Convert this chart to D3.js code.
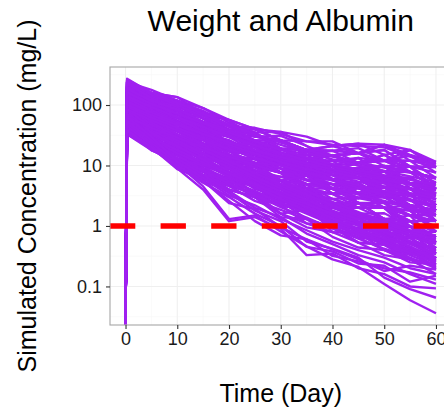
<!DOCTYPE html>
<html>
<head>
<meta charset="utf-8">
<script src="https://cdnjs.cloudflare.com/ajax/libs/d3/7.8.5/d3.min.js"></script>
<style>
    body { margin: 0; background: #fff; }
    svg { display: block; font-family: Arial, "Liberation Sans", sans-serif; }
</style>
</head>
<body>
<svg id="canvas" width="444" height="410"></svg>
<script>
// sampling times (day), shared by every simulated subject
var times = [0, 0.3, 5, 10, 15, 20, 25, 30, 35, 40, 45, 50, 55, 60];

// simulated concentration (mg/L), one row per subject; 0 = pre-dose sample
var profiles = [
    [0,272,158,135,89,57,40,36,30,21,23,22,15,11.5],
    [0,216,158,135,68,39,40,26,15,14.5,16,9.8,7.8,6.2],
    [0,216,158,104,68,57,40,26,25,25,16,22,18,9.4],
    [0,238,141,80,68,39,23,19,18,8.4,9.1,9.8,4.2,3.4],
    [0,196,112,104,60,34,30,26,18,17.5,19.4,12,12,9.4],
    [0,177,141,80,46,30,26,14,11,10,6.2,4.4,4.2,2.2],
    [0,196,112,70,52,39,23,19,18,10,11,12,7.8,4.1],
    [0,177,100,70,52,23,20,14,8,5.9,6.2,3.6,2.2,1.8],
    [0,145,100,91,46,34,35,19,18,21,16,12,18,9.4],
    [0,160,112,62,46,34,20,14,12.8,8.4,6.2,8,5.1,2.75],
    [0,160,79,54,40,17.3,15,10.4,6.8,3.4,4.25,2.4,1.5,0.98],
    [0,131,89,70,40,30,26,16.5,11,12,11,8,7.8,6.2],
    [0,131,89,48,35,26,17,10.4,9.4,5.9,4.25,4.4,4.2,1.8],
    [0,145,63,48,30,17.3,9.6,7.6,4.9,2.35,2.4,2.0,0.98,0.65],
    [0,108,71,54,35,20,20,12.1,8,7,9.1,5.4,5.1,4.1],
    [0,119,79,48,23,20,12.8,7.6,6.8,5.9,3.5,3,2.75,1.2],
    [0,119,71,42,40,23,17,14,15,8.4,11,12,7.8,6.2],
    [0,108,56,48,23,13.2,11,8.9,4.2,3.4,3.5,2.0,1.5,1.2],
    [0,88,63,37,23,17.3,15,7.6,6.8,5.9,4.25,4.4,4.2,2.2],
    [0,108,56,28,20.5,13.2,7.2,4.8,4.2,1.65,1.6,1.3,0.8,0.35],
    [0,88,45,32,23,11.6,9.6,7.6,4.9,4.1,4.25,3,1.8,1.8],
    [0,80,50,42,20.5,17.3,15,7.6,8,7,6.2,4.4,6.3,3.4],
    [0,80,50,25,18,11.6,6.2,4.8,4.2,2.35,1.6,1.62,0.98,0.53],
    [0,88,40,25,18,7.8,6.2,4.1,2.55,1.15,1.35,0.73,0.43,0.29],
    [0,66,40,32,15.5,13.2,11,7.6,4.9,4.9,4.25,3,3.4,2.75],
    [0,73,45,22,15.5,11.6,7.2,4.1,4.9,2.8,2.0,2.0,1.8,0.8],
    [0,73,32,22,13.5,7.8,4.7,4.1,2.55,1.4,1.1,1.08,0.53,0.43],
    [0,60,36,28,15.5,8.9,9.6,5.6,3.5,3.4,3.5,2.0,2.2,1.8],
    [0,60,36,19.5,10,8.9,5.4,3.0,3.0,2.35,1.35,1.3,1.2,0.53],
    [0,66,32,15,11.8,6.8,3.5,2.55,2.2,0.79,0.77,0.73,0.28,0.23],
    [0,54,25,22,11.8,6.8,6.2,4.8,2.55,2.35,2.4,1.3,1.5,1.2],
    [0,49,32,17,9,6,4.7,2.2,1.85,1.4,0.77,0.59,0.53,0.29],
    [0,54,25,13,10,7.8,4.1,3.0,2.55,1.15,1.1,1.3,0.8,0.43],
    [0,49,22,13,9,4.6,3.5,2.2,1.1,0.79,0.77,0.4,0.25,0.23],
    [0,40,22,17,7.9,6,5.4,2.55,2.2,2.0,1.35,0.89,1.2,0.65],
    [0,44,25,11.5,7.9,6,3,2.2,1.85,0.95,0.64,0.73,0.43,0.23],
    [0,44,18,13,9,4.6,3.5,3.0,1.85,0.95,1.1,0.89,0.53,0.43],
    [0,33,18,11.5,5.3,4.0,3.0,1.6,1.1,0.95,0.64,0.4,0.35,0.29],
    [0,36,20,10,6.9,5.2,3.0,1.6,1.85,0.95,0.64,0.59,0.65,0.29],
    [0,255,141,118,89,51,35,36,21,14.5,16,18,9.6,7.6],
    [0,160,112,104,60,34,40,26,18,21,23,15,18,11.5],
    [0,119,89,54,35,30,23,14,15,14.5,11,12,12,6.2],
    [0,88,50,28,26.5,17.3,11,10.4,11,5.9,7.5,9.8,5.1,5.1],
    [0,66,36,32,20.5,13.2,12.8,12.1,8,8.4,11,8,9.6,9.4],
    [0,238,178,118,60,39,35,16.5,12.8,12,6.2,5.4,5.1,2.2],
    [0,238,126,70,52,34,17,12.1,9.4,4.1,3.5,3.6,1.8,0.8],
    [0,145,71,48,35,15,11,7.6,3.5,2.35,2.4,1.3,0.65,0.53],
    [0,88,50,32,13.5,10.2,7.2,3.0,2.2,1.4,0.77,0.49,0.43,0.19],
    [0,54,36,19.5,13.5,11.6,7.2,6.5,6.8,4.9,3.5,5.4,4.2,2.75],
    [0,49,22,15,11.8,6.8,5.4,4.8,3.5,2.0,2.9,2.4,1.5,1.5],
    [0,37,20,13,6,4.6,3.5,1.6,0.95,0.79,0.53,0.33,0.28,0.23],
    [0,160,100,54,35,23,12.8,7.6,6.8,3.4,2.0,2.0,1.5,0.53],
    [0,145,79,62,52,30,23,26,18,14.5,16,22,12,11],
    [0,98,56,42,20.5,10.2,8.3,4.8,2.55,1.65,1.35,0.73,0.53,0.35],
    [0,88,63,42,23,23,17,12.1,12.8,14.5,11,12,14.6,7.6],
    [0,80,40,22,15.5,8.9,5.4,4.1,3.0,1.4,1.35,1.3,0.53,0.43],
    [0,250,158,118,78,55,30,31,21,12,13.3,12,9.6,4.1],
    [0,205,150,112,80,44,42,33,25,22,21,20,14,10.5],
    [0,210,126,104,46,34,22.7,12.1,9.4,7,6.2,3,3.4,1.2],
    [0,200,150,91,74,44,30,26,18,17.5,11,15,7.8,6.2],
    [0,190,112,98,60,29.6,26,19,18,10,13.3,6.6,6.3,4.1],
    [0,177,126,70,35,22.7,15,10.4,5.8,4.9,2.4,2.0,1.2,0.8],
    [0,196,112,62,46,29.6,26,14,12.8,7,7.5,6.6,5.1,2.2],
    [0,170,100,80,60,44,26,26,15,14.5,16,18,9.6,9.4],
    [0,145,100,62,46,20,20,10.4,8,5.9,5.1,3,2.75,1.5],
    [0,160,100,80,40,38.7,22.7,19,15,14.5,11,15,9.6,5.1],
    [0,140,100,54,40,20,17,12.1,11,5.9,7.5,4.4,2.75,2.2],
    [0,155,79,80,40,34,26,26,15,17.5,16,12,14.6,9.4],
    [0,119,89,42,30,20,15,7.6,8,4.1,2.9,3,1.8,1.5],
    [0,135,71,62,40,29.6,17,19,12.8,8.4,9.1,9.8,9.6,4.1],
    [0,108,71,42,30,13.2,12.8,7.6,4.2,3.4,2.4,2.4,0.98,0.98],
    [0,119,71,54,26.5,22.7,15,8.9,8,5.9,6.2,3.6,4.2,1.8],
    [0,104,71,37,30,17.3,11,8.9,6.8,5.9,3.5,4.4,2.2,1.8],
    [0,115,56,54,30,17.3,15,12.1,11,5.9,7.5,5.4,5.1,3.4],
    [0,90,63,37,20.5,13.2,9.6,7.6,4.2,4.1,2.4,2.0,1.5,1.2],
    [0,108,63,37,30,20,20,10.4,12.8,7,9.1,8,7.8,4.1],
    [0,84,45,28,18,13.2,7.2,5.6,3,2.35,2.0,2.0,0.8,0.8],
    [0,78,50,37,26.5,13.2,12.8,7.6,6.8,4.9,5.1,3,4.2,2.2],
    [0,76,45,32,18,15,8.3,6.5,4.9,4.1,2.9,3.6,2.2,1.2],
    [0,82,50,22,18,8.9,6.2,4.1,3.5,1.4,1.6,1.08,0.53,0.43],
    [0,78,36,28,13.5,10.2,7.2,5.6,3,2.8,2.0,1.3,1.2,0.8],
    [0,66,50,25,20.5,15,12.8,7.6,9.4,5.9,5.1,6.6,5.1,5.1],
    [0,70,32,22,13.5,11.6,6.2,5.6,3.5,2,2.4,2.0,1.8,0.8],
    [0,60,36,19.5,13.5,6.8,5.4,3.0,1.85,1.15,0.92,0.89,0.35,0.35],
    [0,57,32,22,10,8.9,4.7,4.1,2.2,1.15,1.1,0.89,0.8,0.35],
    [0,62,40,19.5,18,10.2,7.2,5.6,4.9,4.1,2.9,3.6,2.2,1.8],
    [0,58,25,19.5,10,6.8,5.4,3.5,3,1.4,1.6,1.08,0.98,0.65],
    [0,49,32,15,7.9,6,3.5,2.55,1.3,0.95,0.53,0.49,0.28,0.23],
    [0,52,25,13,9,6,4.7,2.2,2.2,0.95,0.92,0.73,0.65,0.29],
    [0,47,22,17,10,8.9,4.7,4.1,2.55,2.0,2.0,2.0,1.2,1.2],
    [0,41,22,13,10,5.2,4.7,2.2,1.85,1.15,1.1,0.73,0.8,0.43],
    [0,44,22,15,6.9,4.6,2.6,1.85,1.3,0.95,0.53,0.49,0.28,0.16],
    [0,39,22,10,7.9,4,3,2.2,1.85,0.95,0.92,0.59,0.35,0.29],
    [0,43,20,15,7.9,6,4.7,3.5,2.2,2.0,1.6,1.08,1.2,0.8],
    [0,33,20,8.7,6,4,3,1.4,1.3,0.66,0.44,0.4,0.28,0.23],
    [0,38,18,11.5,6.9,6,3,3.0,1.85,0.95,1.1,0.89,0.98,0.43],
    [0,225,141,104,68,34,35,19,11,10,7.5,8,3.4,3.4],
    [0,180,100,80,35,26,15,12.1,6.8,4.1,3.5,2.4,2.2,0.8],
    [0,128,89,48,35,20,12.8,10.4,6.8,5.9,3.5,4.4,1.8,1.5],
    [0,104,50,37,20.5,11.6,8.3,5.6,4.9,2.0,2.4,1.3,0.98,0.65],
    [0,72,50,32,18,15,11,10.4,5.8,5.9,4.25,4.4,4.2,3.4],
    [0,75,40,22,18,11.6,11,5.6,6.8,3.4,4.25,3.6,3.4,1.8],
    [0,55,28,19.5,13.5,10.2,6.2,5.6,3.5,2.8,2.9,3,1.8,1.8],
    [0,133,89,62,46,22.7,22.7,12.1,11,8.4,9.1,5.4,6.3,3.4],
    [0,70,38,24,14,9.5,5.8,3.7,2.4,1.55,1.0,0.7,0.45,0.3],
    [0,95,48,27,16,9,5.2,3.3,2.0,1.25,0.85,0.6,0.4,0.26],
    [0,58,30,17.5,11,6.4,4.3,2.7,1.7,1.2,0.82,0.55,0.38,0.21],
    [0,120,60,33,19,11,6.8,4.5,2.9,1.8,1.2,0.84,0.62,0.4],
    [0,42,24,14.5,8.5,5.5,3.8,2.4,1.6,1.05,0.7,0.5,0.33,0.22],
    [0,84,42,26,15.5,10.5,6.5,4.2,2.7,1.75,1.3,0.95,0.68,0.5],
    [0,150,75,40,22,12.5,7.6,4.6,3.1,2.1,1.45,1.0,0.72,0.56],
    [0,63,33,20,13,8,5.1,3.4,2.2,1.5,1.02,0.66,0.5,0.34],
    [0,47,27,16,10.5,6.7,4.4,2.9,2.1,1.35,0.88,0.62,0.46,0.27],
    [0,110,52,29,18,11.8,7.4,5.0,3.3,2.2,1.55,1.12,0.78,0.6],
    [0,76,35,21,12.5,7.2,4.6,2.8,1.75,1.1,0.75,0.52,0.36,0.25],
    [0,52,29,18,11.2,7.4,4.9,3.2,2.3,1.6,1.15,0.8,0.56,0.38],
    [0,200,95,50,27,15.5,9.2,5.8,3.8,2.5,1.7,1.18,0.85,0.7],
    [0,38,21,12.5,8.2,5.0,3.3,2.05,1.38,0.9,0.62,0.42,0.3,0.2],
    [0,170,98,60,37,24,16,11.2,8.1,6.0,4.6,3.5,2.7,2.0],
    [0,130,80,52,33,22,15.8,11.5,8.8,6.8,5.4,4.3,3.5,2.8],
    [0,95,62,42,28,19,13.5,10,7.4,5.6,4.3,3.3,2.6,2.05],
    [0,230,130,80,50,32,21.5,15,11,8.3,6.5,5.2,4.1,3.2],
    [0,115,75,50,34,24,17.5,13,10,7.8,6.2,5.0,4.0,3.1],
    [0,65,42,29,20,14,10.2,7.5,5.6,4.3,3.3,2.6,2.0,1.6],
    [0,185,118,85,53,38,25,19,13,10.5,7.8,6.5,4.9,3.9],
    [0,240,150,100,66,45,31,22,16.5,12.6,10,8.1,6.6,5.3],
    [0,140,92,63,43,30,21.5,16,12.2,9.5,7.6,6.2,5.1,4.2],
    [0,100,68,47,33,24,18,13.8,10.8,8.6,7.0,5.8,4.8,3.9],
    [0,160,105,72,50,35,25,18.2,13.6,10.5,8.4,6.9,5.8,4.7],
    [0,260,160,108,72,48,33,24,18,14,11.2,9.2,7.6,6.0],
    [0,85,56,38,26,18.5,13.5,10,7.6,5.9,4.7,3.8,3.1,2.5]
];

// the few fast-clearing subjects that drop below the main band
var lowProfiles = [
    [0,60,28,10.7,4.5,1.3,1.5,0.81,0.46,0.28,0.21,0.11,0.059,0.036],
    [0,45,22,9,4.0,1.2,1.4,0.9,0.33,0.35,0.2,0.16,0.1,0.093],
    [0,70,30,12,6.5,3.5,1.8,1.2,0.55,0.42,0.3,0.14,0.09,0.065],
    [0,50,24,11,5.7,2.6,1.2,0.7,0.6,0.32,0.26,0.2,0.17,0.13],
    [0,40,19,9.5,5.2,3.0,1.6,1.0,0.45,0.38,0.24,0.22,0.12,0.15],
    [0,55,26,13,7,3.8,2.0,1.4,0.75,0.5,0.33,0.25,0.16,0.11],
    [0,38,20,10,5.6,2.4,1.9,0.95,0.6,0.41,0.28,0.18,0.22,0.19],
    [0,65,30,11.5,6.2,3.2,2.2,1.3,0.85,0.55,0.4,0.3,0.2,0.16]
];

var xTicks = [0, 10, 20, 30, 40, 50, 60];
var yTicks = [0.1, 1, 10, 100];
var cutoff = [1];   // reference concentration, mg/L

var title = "Weight and Albumin",
    xTitle = "Time (Day)",
    yTitle = "Simulated Concentration (mg/L)";

var svg = d3.select('#canvas'),
    margin = {left: 110, top: 67, bottom: 85},
    panelW = 341.5,
    panelH = 410 - margin.top - margin.bottom,
    allProfiles = profiles.concat(lowProfiles);

// scales, padded 5% on each side like ggplot
//
var xExt = d3.extent(times),
    xPad = (xExt[1] - xExt[0]) * 0.05;
var x = d3.scaleLinear()
    .domain([xExt[0] - xPad, xExt[1] + xPad])
    .range([margin.left, margin.left + panelW]);

var positive = d3.merge(allProfiles).filter(function(v) { return v > 0; }),
    lyExt = d3.extent(positive).map(Math.log10),
    lyPad = (lyExt[1] - lyExt[0]) * 0.05;
var y = d3.scaleLog()
    .domain([Math.pow(10, lyExt[0] - lyPad), Math.pow(10, lyExt[1] + lyPad)])
    .range([margin.top + panelH, margin.top]);

var bottom = margin.top + panelH;

svg.append('rect')
    .attr('width', 444).attr('height', 410)
    .attr('fill', '#fff');

svg.append('defs').append('clipPath')
        .attr('id', 'panel-clip')
    .append('rect')
        .attr('x', margin.left).attr('y', margin.top)
        .attr('width', panelW).attr('height', panelH);

// grid, major + minor (minor at midpoints, log midpoints on y)
//
var grid = svg.append('g').attr('class', 'grid');
var xMinor = xTicks.slice(1).map(function(t, i) { return (t + xTicks[i]) / 2; }),
    yMinor = [yTicks[0] / Math.sqrt(10)].concat(yTicks.map(function(t) { return t * Math.sqrt(10); }));

grid.selectAll('.x-minor').data(xMinor).enter().append('line')
    .attr('x1', x).attr('x2', x)
    .attr('y1', margin.top).attr('y2', bottom)
    .attr('stroke', '#F6F6F6').attr('stroke-width', 0.6);
grid.selectAll('.y-minor').data(yMinor).enter().append('line')
    .attr('x1', margin.left).attr('x2', margin.left + panelW)
    .attr('y1', y).attr('y2', y)
    .attr('stroke', '#F6F6F6').attr('stroke-width', 0.6);
grid.selectAll('.x-major').data(xTicks).enter().append('line')
    .attr('x1', x).attr('x2', x)
    .attr('y1', margin.top).attr('y2', bottom)
    .attr('stroke', '#EFEFEF').attr('stroke-width', 1.1);
grid.selectAll('.y-major').data(yTicks).enter().append('line')
    .attr('x1', margin.left).attr('x2', margin.left + panelW)
    .attr('y1', y).attr('y2', y)
    .attr('stroke', '#EFEFEF').attr('stroke-width', 1.1);

// profiles -- a zero sample sits on the lower edge of the panel
//
var line = d3.line()
    .x(function(d, i) { return x(times[i]); })
    .y(function(d) { return d > 0 ? y(d) : bottom + 2; });

svg.append('g')
        .attr('clip-path', 'url(#panel-clip)')
    .selectAll('path')
    .data(allProfiles)
    .enter().append('path')
        .attr('d', line)
        .attr('fill', 'none')
        .attr('stroke', '#A020F0')
        .attr('stroke-width', 2.4)
        .attr('stroke-linejoin', 'round');

// cutoff line
svg.append('g')
    .selectAll('line')
    .data(cutoff)
    .enter().append('line')
        .attr('x1', margin.left).attr('x2', margin.left + panelW)
        .attr('y1', y).attr('y2', y)
        .attr('stroke', '#FF0000')
        .attr('stroke-width', 5.5)
        .attr('stroke-dasharray', '25.3 25.3');

// panel border
svg.append('rect')
    .attr('x', margin.left).attr('y', margin.top)
    .attr('width', panelW).attr('height', panelH)
    .attr('fill', 'none')
    .attr('stroke', '#A6A6A6')
    .attr('stroke-width', 1.1);

// axes
//
var xAxis = svg.append('g')
    .attr('transform', 'translate(0,' + bottom + ')')
    .call(d3.axisBottom(x).tickValues(xTicks).tickSize(4).tickPadding(3).tickFormat(d3.format('d')));
var yAxis = svg.append('g')
    .attr('transform', 'translate(' + margin.left + ',0)')
    .call(d3.axisLeft(y).tickValues(yTicks).tickSize(4).tickPadding(4).tickFormat(d3.format('~g')));

[xAxis, yAxis].forEach(function(ax) {
    ax.select('.domain').remove();
    ax.selectAll('line').attr('stroke', '#333').attr('stroke-width', 1.1);
    ax.selectAll('text')
        .attr('fill', '#1a1a1a')
        .style('font-size', '18px')
        .style('font-family', 'Arial, "Liberation Sans", sans-serif');
});

// titles
//
var cx = margin.left + panelW / 2;
svg.append('text')
    .attr('x', cx).attr('y', 31)
    .attr('text-anchor', 'middle')
    .style('font-size', '30px')
    .attr('fill', '#000')
    .text(title);

svg.append('text')
    .attr('x', cx).attr('y', 402)
    .attr('text-anchor', 'middle')
    .style('font-size', '25px')
    .attr('fill', '#000')
    .text(xTitle);

svg.append('text')
    .attr('transform', 'translate(36,' + (margin.top + panelH / 2) + ') rotate(-90)')
    .attr('text-anchor', 'middle')
    .style('font-size', '25px')
    .attr('fill', '#000')
    .text(yTitle);
</script>
</body>
</html>
